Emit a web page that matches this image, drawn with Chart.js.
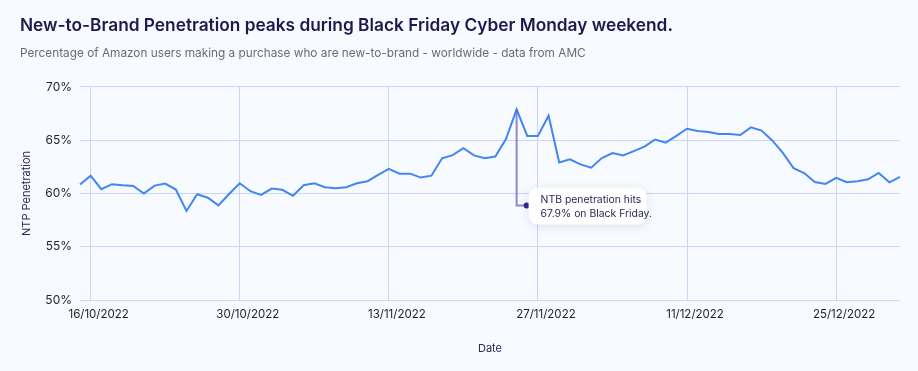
<!DOCTYPE html>
<html>
<head>
<meta charset="utf-8">
<script src="https://cdn.jsdelivr.net/npm/chart.js@4.4.1/dist/chart.umd.min.js"></script>
<style>
  html, body { margin: 0; padding: 0; background: #f7faff; }
  canvas { display: block; }
</style>
</head>
<body>
<canvas id="ntbChart" width="918" height="371"></canvas>
<script>
// Daily dates, 15 Oct - 31 Dec 2022
const dates = [
  "15/10/2022", "16/10/2022", "17/10/2022", "18/10/2022", "19/10/2022", "20/10/2022", "21/10/2022",
  "22/10/2022", "23/10/2022", "24/10/2022", "25/10/2022", "26/10/2022", "27/10/2022", "28/10/2022",
  "29/10/2022", "30/10/2022", "31/10/2022",
  "01/11/2022", "02/11/2022", "03/11/2022", "04/11/2022", "05/11/2022", "06/11/2022", "07/11/2022",
  "08/11/2022", "09/11/2022", "10/11/2022", "11/11/2022", "12/11/2022", "13/11/2022", "14/11/2022",
  "15/11/2022", "16/11/2022", "17/11/2022", "18/11/2022", "19/11/2022", "20/11/2022", "21/11/2022",
  "22/11/2022", "23/11/2022", "24/11/2022", "25/11/2022", "26/11/2022", "27/11/2022", "28/11/2022",
  "29/11/2022", "30/11/2022",
  "01/12/2022", "02/12/2022", "03/12/2022", "04/12/2022", "05/12/2022", "06/12/2022", "07/12/2022",
  "08/12/2022", "09/12/2022", "10/12/2022", "11/12/2022", "12/12/2022", "13/12/2022", "14/12/2022",
  "15/12/2022", "16/12/2022", "17/12/2022", "18/12/2022", "19/12/2022", "20/12/2022", "21/12/2022",
  "22/12/2022", "23/12/2022", "24/12/2022", "25/12/2022", "26/12/2022", "27/12/2022", "28/12/2022",
  "29/12/2022", "30/12/2022", "31/12/2022"
];

// NTB penetration in %
const ntbPenetration = [
  60.84, 61.67, 60.40, 60.87, 60.77, 60.70, 60.00, 60.74, 60.93, 60.37,
  58.35, 59.93, 59.60, 58.88, 59.95, 60.96, 60.21, 59.87, 60.46, 60.34,
  59.78, 60.77, 60.96, 60.59, 60.49, 60.59, 60.95, 61.15, 61.74, 62.30,
  61.86, 61.86, 61.49, 61.67, 63.30, 63.60, 64.25, 63.57, 63.30, 63.46,
  65.10, 67.90, 65.40, 65.40, 67.30, 62.90, 63.20, 62.73, 62.42, 63.33,
  63.80, 63.57, 63.97, 64.40, 65.05, 64.77, 65.40, 66.07, 65.86, 65.77,
  65.58, 65.58, 65.49, 66.20, 65.90, 64.98, 63.80, 62.38, 61.92, 61.08,
  60.90, 61.46, 61.05, 61.14, 61.33, 61.92, 61.05, 61.55
];

// which dates get a tick label + grid line
const tickDates = ["16/10/2022", "30/10/2022", "13/11/2022", "27/11/2022", "11/12/2022", "25/12/2022"];

const calloutDate = "25/11/2022";
const calloutLines = ["NTB penetration hits", "67.9% on Black Friday."];

const FONT = "Inter, 'Noto Sans', sans-serif";

// little callout box pointing at the Black Friday peak
const calloutPlugin = {
  id: 'callout',
  afterDatasetsDraw(chart) {
    const ctx = chart.ctx;
    const idx = dates.indexOf(calloutDate);
    const pt = chart.getDatasetMeta(0).data[idx];
    const yScale = chart.scales.y;
    const px = pt.x, py = pt.y;
    const elbowY = yScale.getPixelForValue(58.88);
    const dotX = px + 10;

    ctx.save();
    ctx.strokeStyle = 'rgba(100, 100, 200, 0.75)';
    ctx.lineWidth = 2;
    ctx.beginPath();
    ctx.moveTo(px, py);
    ctx.lineTo(px, elbowY);
    ctx.lineTo(dotX, elbowY);
    ctx.stroke();

    ctx.fillStyle = '#2f2a8c';
    ctx.beginPath();
    ctx.arc(dotX, elbowY, 3, 0, Math.PI * 2);
    ctx.fill();

    const bx = dotX + 2, by = elbowY - 18, bw = 118, bh = 37;
    ctx.shadowColor = 'rgba(60, 80, 140, 0.15)';
    ctx.shadowBlur = 10;
    ctx.shadowOffsetY = 2;
    ctx.fillStyle = '#ffffff';
    ctx.beginPath();
    ctx.roundRect(bx, by, bw, bh, 9);
    ctx.fill();
    ctx.shadowColor = 'transparent';

    ctx.fillStyle = '#2b2a55';
    ctx.font = '10.4px ' + FONT;
    ctx.textBaseline = 'middle';
    ctx.textAlign = 'left';
    ctx.fillText(calloutLines[0], bx + 12, by + 12);
    ctx.fillText(calloutLines[1], bx + 12, by + 26);
    ctx.restore();
  }
};

const ctx = document.getElementById('ntbChart').getContext('2d');
new Chart(ctx, {
  type: 'line',
  data: {
    labels: dates,
    datasets: [{
      label: 'NTB Penetration',
      data: ntbPenetration,
      borderColor: '#4186f2',
      borderWidth: 2,
      pointRadius: 0,
      tension: 0,
      fill: false
    }]
  },
  options: {
    responsive: false,
    devicePixelRatio: 1,
    animation: false,
    layout: { padding: { left: 20, right: 18, top: 15, bottom: 12 } },
    plugins: {
      legend: { display: false },
      tooltip: { enabled: false },
      title: {
        display: true,
        align: 'start',
        text: 'New-to-Brand Penetration peaks during Black Friday Cyber Monday weekend.',
        color: '#1b1a4b',
        font: { family: FONT, size: 17.3, weight: '600' },
        padding: { top: 0, bottom: 9 }
      },
      subtitle: {
        display: true,
        align: 'start',
        text: 'Percentage of Amazon users making a purchase who are new-to-brand - worldwide - data from AMC',
        color: '#6b6b78',
        font: { family: FONT, size: 11.8 },
        padding: { top: 2, bottom: 26 }
      }
    },
    scales: {
      x: {
        grid: {
          color: '#c8d5f7',
          drawTicks: false
        },
        border: { display: false },
        ticks: {
          autoSkip: false,
          maxRotation: 0,
          padding: 8,
          labelOffset: 8,
          color: '#1f1f2e',
          font: { family: FONT, size: 11.5 },
          callback: function (value) {
            const lbl = this.getLabelForValue(value);
            return tickDates.includes(lbl) ? lbl : null;
          }
        },
        title: {
          display: true,
          text: 'Date',
          color: '#2b2a55',
          font: { family: FONT, size: 11 },
          padding: { top: 12, bottom: 4 }
        }
      },
      y: {
        min: 50,
        max: 70,
        grid: { color: '#c8d5f7', drawTicks: false },
        border: { display: false },
        afterFit: s => { s.width = 60; },
        ticks: {
          stepSize: 5,
          padding: 8,
          color: '#1f1f2e',
          font: { family: FONT, size: 12 },
          callback: v => v + '%'
        },
        title: {
          display: true,
          text: 'NTP Penetration',
          color: '#2b2a55',
          font: { family: FONT, size: 11 },
          padding: { top: 0, bottom: 0 }
        }
      }
    }
  },
  plugins: [calloutPlugin]
});
</script>
</body>
</html>
